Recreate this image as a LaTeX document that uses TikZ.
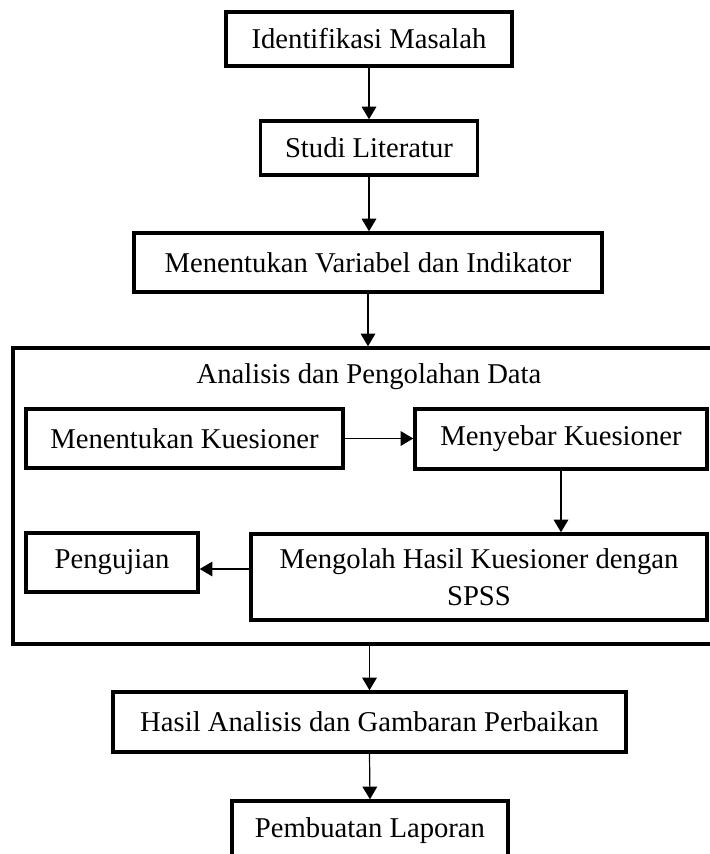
\documentclass[tikz,border=0pt]{standalone}
\usepackage{fontspec}
\setmainfont{Liberation Serif}
\usetikzlibrary{arrows.meta,calc}
\tikzset{
  box/.style={draw, line width=2.6pt, inner sep=0pt, align=center,
    font=\fontsize{21.5}{27.75}\selectfont},
  sz/.style n args={2}{minimum width=#1*0.75pt, minimum height=#2*0.75pt},
  lbl/.style={inner sep=0pt, font=\fontsize{21.5}{27.75}\selectfont},
  arr/.style={-{Triangle[length=9.5pt,width=11pt]}, line width=0.9pt}
}
\begin{document}
\begin{tikzpicture}[x=0.75pt,y=-0.75pt]
\path[use as bounding box, clip] (0,0) rectangle (710,854);
\fill[white] (0,0) rectangle (710,854);
% main column
\node[box, sz={286}{54}] (b1) at (369,39) {Identifikasi Masalah};
\node[box, sz={217}{54}] (b2) at (369,148) {Studi Literatur};
\node[box, sz={468}{59}] (b3) at (368,262.5) {Menentukan Variabel dan Indikator};
% big container
\node[draw, line width=2.6pt, inner sep=0pt, sz={703}{296}] (big) at (364.5,496) {};
\node[lbl] (title) at (369,377) {Analisis dan Pengolahan Data};
\node[box, sz={317}{59}] (mk) at (184.5,438.5) {Menentukan Kuesioner};
\node[box, sz={292}{60}] (myb) at (561,439) {Menyebar Kuesioner};
\node[box, sz={456}{86}] (meng) at (479,577) {Mengolah Hasil Kuesioner dengan\\SPSS};
\node[box, sz={172}{59}] (peng) at (112,562.5) {Pengujian};
% lower column
\node[box, sz={513}{60}] (hasil) at (369.5,722) {Hasil Analisis dan Gambaran Perbaikan};
\node[box, sz={276}{60}] (lap) at (370,831) {Pembuatan Laporan};
% connectors
\draw[arr] (b1.south) -- (b2.north);
\draw[arr] (b2.south) -- (b2.south |- b3.north);
\draw[arr] (b3.south) -- (b3.south |- big.north);
\draw[arr] (mk.east) -- (mk.east -| myb.west);
\draw[arr] (myb.south) -- (myb.south |- meng.north);
\coordinate (p) at ($(meng.west)+(0,-8)$);
\draw[arr] (p) -- (p -| peng.east);
\draw[arr] (hasil.north |- big.south) -- (hasil.north);
\draw[arr] (hasil.south) -- (lap.north);
\end{tikzpicture}
\end{document}
